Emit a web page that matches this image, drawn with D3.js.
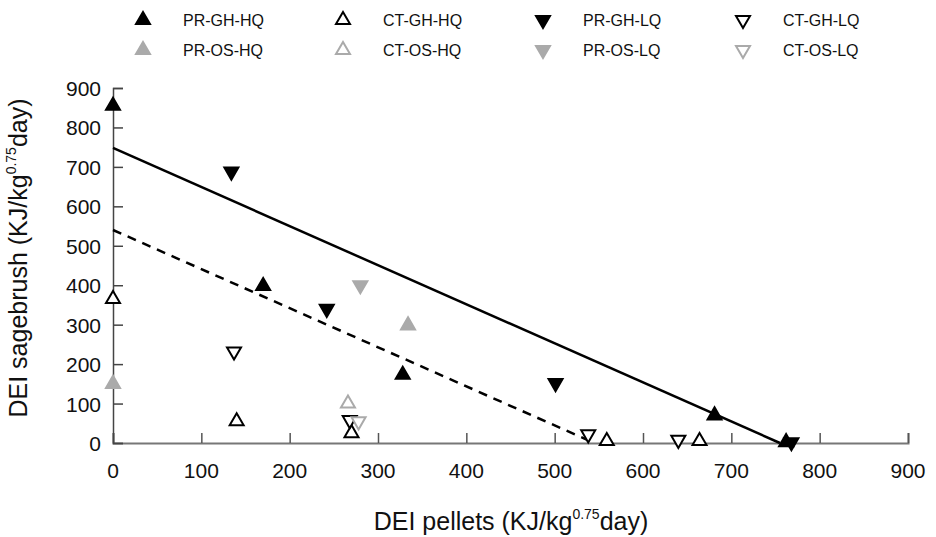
<!DOCTYPE html>
<html>
<head>
  <meta charset="utf-8">
  <script src="https://d3js.org/d3.v7.min.js"></script>
  <style>
    body { margin: 0; background: #fff; }
    text { font-family: "Liberation Sans", Arial, sans-serif; }
  </style>
</head>
<body>
<script>
// series: [pellets, sagebrush]
var prGhHq = [[0, 855], [170, 398], [328, 173], [681, 70], [762, 2]];
var ctGhHq = [[0, 365], [140, 55], [270, 25], [559, 5], [664, 5]];
var prGhLq = [[134, 688], [242, 340], [501, 152], [768, 2]];
var ctGhLq = [[137, 232], [268, 58], [538, 22], [640, 8]];
var prOsHq = [[0, 150], [334, 298]];
var ctOsHq = [[266, 100]];
var prOsLq = [[280, 400]];
var ctOsLq = [[278, 55]];

// fitted lines
var solidLine = [[0, 748], [755, 0]];
var dashedLine = [[0, 540], [545, 0]];

var xTicks = [0, 100, 200, 300, 400, 500, 600, 700, 800, 900];
var yTicks = [0, 100, 200, 300, 400, 500, 600, 700, 800, 900];

var width = 936, height = 537;
var svg = d3.select("body").append("svg").attr("width", width).attr("height", height);

var x = d3.scaleLinear().domain([0, 900]).range([113, 908]);
var y = d3.scaleLinear().domain([0, 900]).range([443, 88]);

var series = [
  {name: "PR-GH-HQ", data: prGhHq, up: true,  fill: "#000", stroke: "#000"},
  {name: "CT-GH-HQ", data: ctGhHq, up: true,  fill: "#fff", stroke: "#000"},
  {name: "PR-GH-LQ", data: prGhLq, up: false, fill: "#000", stroke: "#000"},
  {name: "CT-GH-LQ", data: ctGhLq, up: false, fill: "#fff", stroke: "#000"},
  {name: "PR-OS-HQ", data: prOsHq, up: true,  fill: "#aaa", stroke: "#aaa"},
  {name: "CT-OS-HQ", data: ctOsHq, up: true,  fill: "#fff", stroke: "#aaa"},
  {name: "PR-OS-LQ", data: prOsLq, up: false, fill: "#aaa", stroke: "#aaa"},
  {name: "CT-OS-LQ", data: ctOsLq, up: false, fill: "#fff", stroke: "#aaa"}
];

// axes (ticks pointing inward)
var xAxis = svg.append("g").attr("transform", "translate(0,443)")
  .call(d3.axisTop(x).tickValues(xTicks).tickSize(10).tickFormat(""));
xAxis.select(".domain").attr("stroke", "#777").attr("stroke-width", 2);
xAxis.selectAll(".tick line").attr("stroke", "#555").attr("stroke-width", 1.5);

var yAxis = svg.append("g").attr("transform", "translate(113,0)")
  .call(d3.axisRight(y).tickValues(yTicks).tickSize(10).tickFormat(""));
yAxis.select(".domain").attr("stroke", "#444").attr("stroke-width", 1.5);
yAxis.selectAll(".tick line").attr("stroke", "#444").attr("stroke-width", 1.5);

svg.selectAll(".xlab").data(xTicks).enter().append("text")
  .attr("x", function(d) { return x(d); }).attr("y", 478)
  .attr("text-anchor", "middle").attr("font-size", 21).attr("fill", "#111")
  .text(function(d) { return d; });

svg.selectAll(".ylab").data(yTicks).enter().append("text")
  .attr("x", 101).attr("y", function(d) { return y(d) + 8; })
  .attr("text-anchor", "end").attr("font-size", 21).attr("fill", "#111")
  .text(function(d) { return d; });

// lines
var line = d3.line().x(function(d) { return x(d[0]); }).y(function(d) { return y(d[1]); });
svg.append("path").attr("d", line(solidLine)).attr("fill", "none")
  .attr("stroke", "#000").attr("stroke-width", 2.5);
svg.append("path").attr("d", line(dashedLine)).attr("fill", "none")
  .attr("stroke", "#000").attr("stroke-width", 2.5).attr("stroke-dasharray", "9,7");

// markers
var tri = d3.symbol().type(d3.symbolTriangle).size(85);
series.forEach(function(s) {
  svg.selectAll(null).data(s.data).enter().append("path")
    .attr("d", tri)
    .attr("transform", function(d) {
      return "translate(" + x(d[0]) + "," + y(d[1]) + ")" + (s.up ? "" : " rotate(180)");
    })
    .attr("fill", s.fill).attr("stroke", s.stroke).attr("stroke-width", 2);
});

// legend
var legX = [143, 343, 543, 743];
var legY = [20, 50];
series.forEach(function(s, i) {
  var lx = legX[i % 4], ly = legY[Math.floor(i / 4)];
  svg.append("path").attr("d", tri)
    .attr("transform", "translate(" + lx + "," + ly + ")" + (s.up ? "" : " rotate(180)"))
    .attr("fill", s.fill).attr("stroke", s.stroke).attr("stroke-width", 2);
  svg.append("text").attr("x", lx + 40).attr("y", ly + 6)
    .attr("font-size", 16).attr("fill", "#111").text(s.name);
});

// axis titles
var xt = svg.append("text").attr("x", 511).attr("y", 530).attr("text-anchor", "middle")
  .attr("font-size", 25).attr("fill", "#111");
xt.append("tspan").text("DEI pellets (KJ/kg");
xt.append("tspan").attr("font-size", 14).attr("dy", -11).text("0.75");
xt.append("tspan").attr("dy", 11).text("day)");

var yt = svg.append("text").attr("transform", "translate(27,258) rotate(-90)")
  .attr("text-anchor", "middle").attr("font-size", 25).attr("fill", "#111");
yt.append("tspan").text("DEI sagebrush (KJ/kg");
yt.append("tspan").attr("font-size", 14).attr("dy", -11).text("0.75");
yt.append("tspan").attr("dy", 11).text("day)");
</script>
</body>
</html>
